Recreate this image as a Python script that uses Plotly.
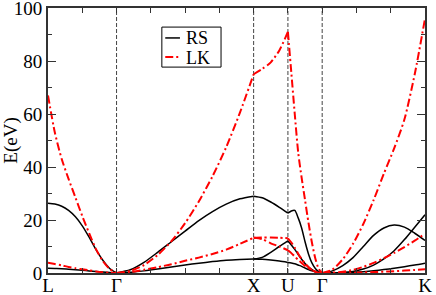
import plotly.graph_objects as go

# ---- high-symmetry points along the k-path ----
sym_pos = [0.0, 0.5, 1.5, 1.75, 2.0, 2.75]
sym_labels = ["L", "Γ", "X", "U", "Γ", "K"]
dashed_pos = [0.5, 1.5, 1.75, 2.0]
tick_step = 0.25

# ---- k grids for each path segment ----
k_LG = [0.0, 0.05, 0.10, 0.15, 0.20, 0.25, 0.30, 0.35, 0.40, 0.45, 0.50]
k_GX = [0.5, 0.6, 0.7, 0.8, 0.9, 1.0, 1.1, 1.2, 1.3, 1.4, 1.5]
k_XU = [1.5, 1.5625, 1.625, 1.6875, 1.75]
k_UG = [1.75, 1.775, 1.8, 1.825, 1.85, 1.875, 1.9, 1.925, 1.95, 1.975, 2.0]
k_GK = [2.0, 2.075, 2.15, 2.225, 2.3, 2.375, 2.45, 2.525, 2.6, 2.675, 2.75]

# ---- RS (black solid) energies ----
rs_LG_1 = [26.3, 26.0, 25.2, 23.6, 21.2, 17.8, 13.5, 8.8, 4.8, 1.7, 0.0]
rs_LG_2 = [1.8, 1.7, 1.6, 1.4, 1.2, 1.0, 0.8, 0.55, 0.35, 0.15, 0.0]
rs_GX_1 = [0.0, 1.2, 4.0, 7.8, 11.8, 15.8, 19.8, 23.2, 26.0, 28.0, 29.0]
rs_GX_2 = [0.0, 0.25, 0.8, 1.5, 2.3, 3.0, 3.7, 4.3, 4.8, 5.1, 5.3]
rs_XU_1 = [29.0, 28.4, 26.8, 24.8, 22.6]
rs_XU_2 = [5.3, 5.9, 7.8, 10.0, 12.1]
rs_XU_3 = [5.3, 5.2, 4.9, 4.5, 4.0]
rs_UG_1 = [22.6, 23.4, 23.6, 20.8, 17.0, 11.8, 7.2, 3.8, 1.7, 0.5, 0.0]
rs_UG_2 = [12.1, 10.6, 8.9, 7.0, 5.2, 3.6, 2.3, 1.3, 0.6, 0.15, 0.0]
rs_UG_3 = [4.0, 3.8, 3.5, 3.0, 2.5, 1.9, 1.3, 0.8, 0.4, 0.1, 0.0]
rs_GK_1 = [0.0, 0.8, 2.8, 5.8, 10.0, 14.2, 17.0, 18.1, 17.3, 15.0, 12.3]
rs_GK_2 = [0.0, 0.05, 0.2, 0.6, 1.5, 3.0, 5.3, 8.4, 12.6, 17.3, 22.0]
rs_GK_3 = [0.0, 0.02, 0.1, 0.25, 0.5, 0.85, 1.3, 1.8, 2.4, 3.0, 3.7]

# ---- LK (red dash-dot) energies ----
lk_LG_1 = [67.0, 53.0, 43.0, 35.5, 28.5, 21.5, 15.0, 9.0, 4.5, 1.5, 0.0]
lk_LG_2 = [3.9, 3.4, 2.9, 2.3, 1.8, 1.4, 1.0, 0.6, 0.3, 0.1, 0.0]
lk_GX_1 = [0.0, 0.8, 3.0, 6.8, 12.0, 18.8, 27.0, 36.5, 47.5, 60.5, 75.0]
lk_GX_2 = [0.0, 0.4, 1.2, 2.2, 3.3, 4.6, 5.8, 7.2, 8.8, 11.0, 13.3]
lk_XU_1 = [75.0, 77.0, 79.5, 84.0, 91.0]
lk_XU_2 = [13.3, 13.4, 13.4, 13.3, 13.1]
lk_XU_3 = [13.3, 12.8, 11.2, 10.0, 8.6]
lk_UG_1 = [91.0, 75.5, 60.0, 45.5, 36.0, 27.5, 19.0, 11.5, 5.5, 1.5, 0.0]
lk_UG_2 = [13.1, 11.5, 9.5, 7.3, 5.3, 3.6, 2.2, 1.2, 0.5, 0.1, 0.0]
lk_UG_3 = [8.6, 7.5, 6.2, 5.0, 3.8, 2.7, 1.8, 1.1, 0.5, 0.1, 0.0]
lk_GK_1 = [0.0, 1.3, 5.2, 11.0, 18.5, 27.5, 37.5, 47.0, 58.0, 75.0, 96.0]
lk_GK_2 = [0.0, 0.15, 0.5, 1.2, 2.3, 3.8, 5.6, 7.6, 9.8, 12.2, 14.8]
lk_GK_3 = [0.0, 0.02, 0.06, 0.12, 0.22, 0.35, 0.5, 0.7, 0.9, 1.15, 1.4]

series_names = ["RS", "LK"]

rs_segments = [
    (k_LG, rs_LG_1), (k_LG, rs_LG_2),
    (k_GX, rs_GX_1), (k_GX, rs_GX_2),
    (k_XU, rs_XU_1), (k_XU, rs_XU_2), (k_XU, rs_XU_3),
    (k_UG, rs_UG_1), (k_UG, rs_UG_2), (k_UG, rs_UG_3),
    (k_GK, rs_GK_1), (k_GK, rs_GK_2), (k_GK, rs_GK_3),
]
lk_segments = [
    (k_LG, lk_LG_1), (k_LG, lk_LG_2),
    (k_GX, lk_GX_1), (k_GX, lk_GX_2),
    (k_XU, lk_XU_1), (k_XU, lk_XU_2), (k_XU, lk_XU_3),
    (k_UG, lk_UG_1), (k_UG, lk_UG_2), (k_UG, lk_UG_3),
    (k_GK, lk_GK_1), (k_GK, lk_GK_2), (k_GK, lk_GK_3),
]

FONT = "Liberation Serif"
RS_LINE = dict(color="black", width=1.5)
LK_LINE = dict(color="#ff0000", width=2, dash="8px,3px,2px,3px")

fig = go.Figure()

for i, (k, e) in enumerate(rs_segments):
    fig.add_trace(go.Scatter(
        x=k, y=e, mode="lines", name=series_names[0], legendgroup="RS",
        showlegend=False,
        line=dict(**RS_LINE, shape="spline", smoothing=0.7),
        hoverinfo="skip"))

for i, (k, e) in enumerate(lk_segments):
    fig.add_trace(go.Scatter(
        x=k, y=e, mode="lines", name=series_names[1], legendgroup="LK",
        showlegend=False,
        line=dict(**LK_LINE, shape="spline", smoothing=0.7),
        hoverinfo="skip"))

# dashed vertical lines at interior high-symmetry points
for xv in dashed_pos:
    fig.add_shape(type="line", xref="x", yref="paper", x0=xv, x1=xv, y0=0, y1=1,
                  line=dict(color="#444444", width=1, dash="4px,2px"), layer="below")

# compact boxed legend (xmgrace style)
leg_x0, leg_x1, leg_y0, leg_y1 = 0.302, 0.459, 0.777, 0.928
fig.add_shape(type="rect", xref="paper", yref="paper",
              x0=leg_x0, x1=leg_x1, y0=leg_y0, y1=leg_y1,
              line=dict(color="black", width=1), fillcolor="white", layer="above")
leg_rows = [(0.887, 0.889, series_names[0], RS_LINE),
            (0.815, 0.8125, series_names[1], LK_LINE)]
for y_line, y_text, name, ln in leg_rows:
    fig.add_shape(type="line", xref="paper", yref="paper",
                  x0=0.311, x1=0.350, y0=y_line, y1=y_line, line=ln, layer="above")
    fig.add_annotation(xref="paper", yref="paper", x=0.363, y=y_text,
                       xanchor="left", yanchor="middle", text=name, showarrow=False,
                       height=17, valign="middle", borderpad=0,
                       font=dict(family=FONT, size=18, color="black"))

n_ticks = int(round(sym_pos[-1] / tick_step)) + 1
x_tickvals = [i * tick_step for i in range(n_ticks)]
x_ticktext = []
for v in x_tickvals:
    lab = ""
    for p, s in zip(sym_pos, sym_labels):
        if abs(p - v) < 1e-9:
            lab = s
    x_ticktext.append(lab)

fig.update_layout(
    width=436, height=295,
    margin=dict(l=48, r=11, t=8, b=22, autoexpand=False),
    paper_bgcolor="white", plot_bgcolor="white",
    font=dict(family=FONT, size=19, color="black"),
    showlegend=False,
)

fig.update_xaxes(
    range=[sym_pos[0], sym_pos[-1]], automargin=False,
    tickmode="array", tickvals=x_tickvals, ticktext=x_ticktext,
    ticks="inside", ticklen=5, tickwidth=1, tickcolor="#333333",
    mirror="allticks", showline=True, linecolor="#333333", linewidth=2,
    showgrid=False, zeroline=False, ticklabeloverflow="allow",
    ticklabelstandoff=-6,
    tickfont=dict(family=FONT, size=19),
)
fig.update_yaxes(
    range=[0, 100], tick0=0, dtick=20, automargin=False,
    ticks="inside", ticklen=8, tickwidth=1, tickcolor="#333333",
    minor=dict(ticks="inside", ticklen=4, dtick=10, tickcolor="#333333", showgrid=False),
    mirror="allticks", showline=True, linecolor="#333333", linewidth=2,
    showgrid=False, zeroline=False, ticklabeloverflow="allow",
    tickfont=dict(family=FONT, size=19),
    title=dict(text="E(eV)", font=dict(family=FONT, size=19), standoff=2),
)

fig.write_html("out.html", config={"displayModeBar": False},
               post_script="document.body.style.margin='0';")
